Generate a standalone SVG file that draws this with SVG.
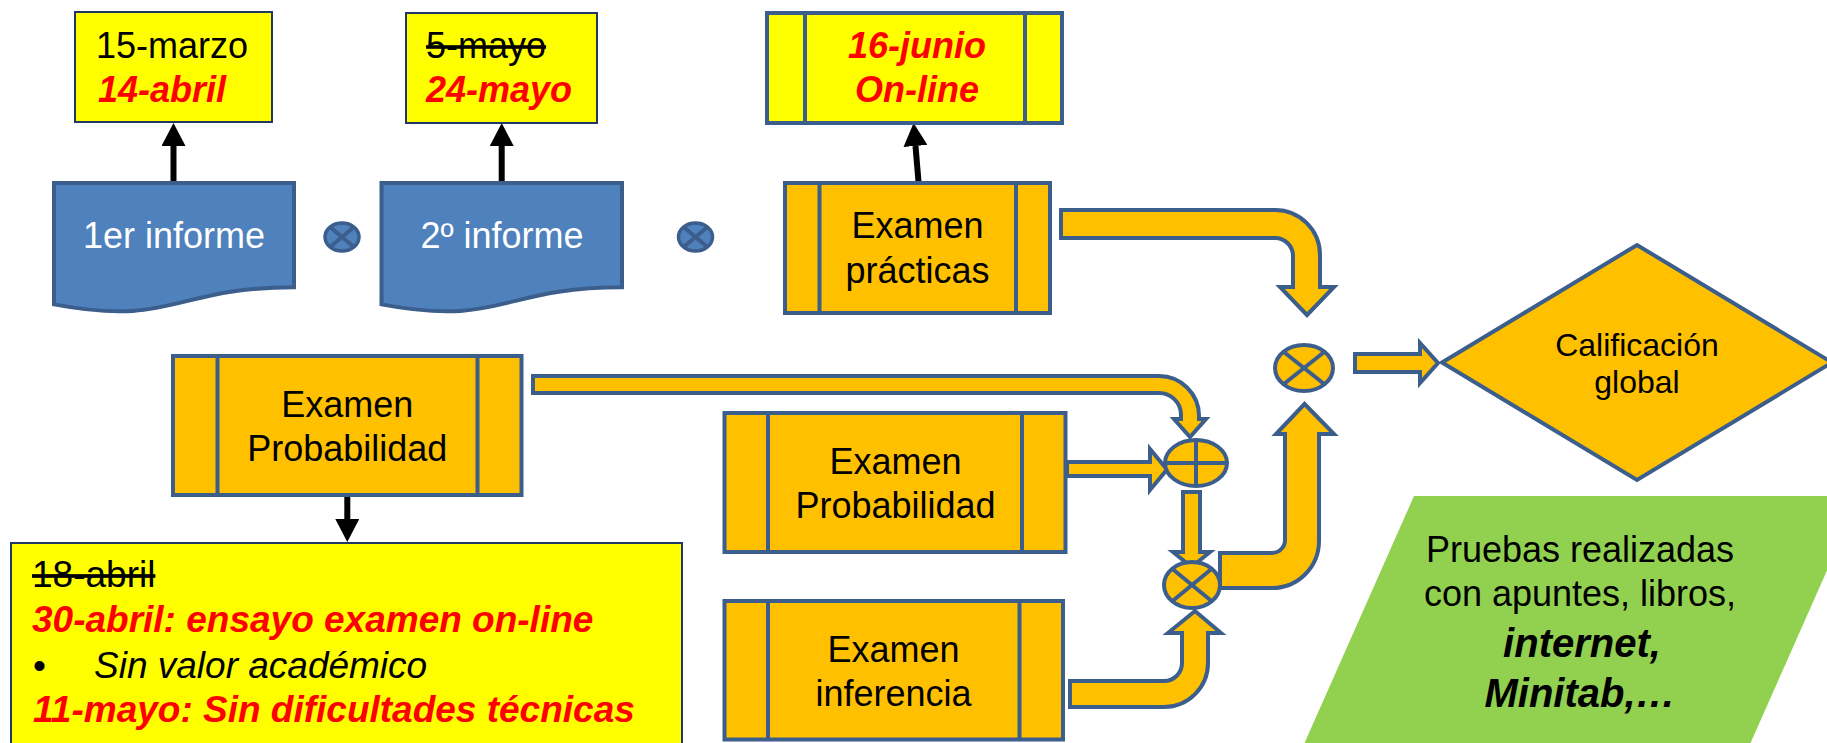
<svg xmlns="http://www.w3.org/2000/svg" width="1827" height="743" viewBox="0 0 1827 743">
<style>
text{font-family:"Liberation Sans",Arial,sans-serif}
.note{fill:#FFFF00;stroke:#1F3864;stroke-width:2}
.proc{fill:#FFC000;stroke:#3B5E8C;stroke-width:4}
.procy{fill:#FFFF00;stroke:#3B5E8C;stroke-width:4}
.bar{stroke:#3B5E8C;stroke-width:4;fill:none}
.doc{fill:#4F81BD;stroke:#3B5E8C;stroke-width:4}
.flow{fill:#FFC000;stroke:#3B5E8C;stroke-width:4;stroke-linejoin:miter}
.jn{fill:#FFC000;stroke:#3B5E8C;stroke-width:4}
.jb{fill:#4F81BD;stroke:#3B5E8C;stroke-width:3.5}
.jl{stroke:#3B5E8C;stroke-width:4;fill:none}
.blk{stroke:#000;stroke-width:6;fill:none}
.t36{font-size:36px;fill:#000}
.w36{font-size:36px;fill:#fff}
.red{font-weight:bold;font-style:italic;fill:#FF0000}
.strike{text-decoration:line-through}
</style>
<defs>
<marker id="ah" markerUnits="userSpaceOnUse" markerWidth="24" markerHeight="24" refX="0" refY="12" orient="auto">
<path d="M0,0 L23,12 L0,24 Z" fill="#000"/>
</marker>
</defs>

<g id="connectors">
<line class="blk" x1="173.5" y1="183" x2="173.5" y2="146" marker-end="url(#ah)"/>
<line class="blk" x1="501.7" y1="183" x2="501.7" y2="146" marker-end="url(#ah)"/>
<line class="blk" x1="918.6" y1="183" x2="915.5" y2="146" marker-end="url(#ah)"/>
<line class="blk" x1="347.3" y1="495" x2="347.3" y2="519" marker-end="url(#ah)"/>
<path class="flow" d="M1061,210 H1275 A45,45 0 0 1 1320,255 V287 H1334 L1307,315 L1280,287 H1293 V256 A18,18 0 0 0 1275,238 H1061 Z"/>
<path class="flow" d="M533,376 H1159 A40,40 0 0 1 1199,416 V419 H1206 L1190,437 L1174,419 H1181 V415 A22,22 0 0 0 1159,393 H533 Z"/>
<path class="flow" d="M1067,462 H1150 V449 L1167,469.5 L1150,490 V476 H1067 Z"/>
<path class="flow" d="M1183,492 H1200 V552 H1210 L1191.5,567 L1173,552 H1183 Z"/>
<path class="flow" d="M1070,681 H1164 A18,18 0 0 0 1182,663 V633 H1168 L1195,611 L1221,633 H1208 V663 A44,44 0 0 1 1164,707 H1070 Z"/>
<path class="flow" d="M1220,553 H1272 A13,13 0 0 0 1285,540 V434 H1276 L1304.5,404 L1334,434 H1319 V541 A47,47 0 0 1 1272,588 H1220 Z"/>
<path class="flow" d="M1355,354 H1420 V343 L1438,363 L1420,383 V372 H1355 Z"/>
</g>

<g id="fecha1">
<rect class="note" x="75" y="12" width="197" height="110"/>
<text class="t36" x="96" y="58">15-marzo</text>
<text class="t36 red" x="98" y="102">14-abril</text>
</g>
<g id="fecha2">
<rect class="note" x="406" y="13" width="191" height="110"/>
<text class="t36 strike" x="426" y="58">5-mayo</text>
<text class="t36 red" x="426" y="102">24-mayo</text>
</g>
<g id="fecha3">
<rect class="procy" x="767" y="13" width="295" height="110"/>
<line class="bar" x1="805" y1="13" x2="805" y2="123"/>
<line class="bar" x1="1025" y1="13" x2="1025" y2="123"/>
<text class="t36 red" x="917" y="58" text-anchor="middle">16-junio</text>
<text class="t36 red" x="917" y="102" text-anchor="middle">On-line</text>
</g>

<g id="informe1">
<path class="doc" d="M54,183 H294 V287.2 C174,287.2 174,327 54,304.4 Z"/>
<text class="w36" x="174" y="248" text-anchor="middle">1er informe</text>
</g>
<g id="junction-a">
<ellipse class="jb" cx="342" cy="237" rx="17" ry="14"/>
<path class="jl" d="M330,227 L354,247 M354,227 L330,247"/>
</g>
<g id="informe2">
<path class="doc" d="M381.5,183 H622 V287.2 C501.7,287.2 501.7,327 381.5,304.4 Z"/>
<text class="w36" x="502" y="248" text-anchor="middle">2º informe</text>
</g>
<g id="junction-b">
<ellipse class="jb" cx="695.5" cy="237" rx="17" ry="14"/>
<path class="jl" d="M683.5,227 L707.5,247 M707.5,227 L683.5,247"/>
</g>

<g id="practicas">
<rect class="proc" x="785" y="183" width="265" height="130"/>
<line class="bar" x1="819.5" y1="183" x2="819.5" y2="313"/>
<line class="bar" x1="1016" y1="183" x2="1016" y2="313"/>
<text class="t36" x="917.5" y="238" text-anchor="middle">Examen</text>
<text class="t36" x="917.5" y="283" text-anchor="middle">prácticas</text>
</g>

<g id="probabilidad1">
<rect class="proc" x="173" y="356" width="348.5" height="139"/>
<line class="bar" x1="217.5" y1="356" x2="217.5" y2="495"/>
<line class="bar" x1="477.5" y1="356" x2="477.5" y2="495"/>
<text class="t36" x="347.3" y="417" text-anchor="middle">Examen</text>
<text class="t36" x="347.3" y="461" text-anchor="middle">Probabilidad</text>
</g>

<g id="fechas-probabilidad">
<rect class="note" x="11" y="543" width="671" height="205"/>
<text class="t36 strike" x="32" y="587" style="font-size:37px">18-abril</text>
<text class="t36 red" x="32" y="632" style="font-size:37px">30-abril: ensayo examen on-line</text>
<text class="t36" x="33" y="678" style="font-size:37px">•</text>
<text class="t36" x="94" y="678" style="font-size:37px;font-style:italic">Sin valor académico</text>
<text class="t36 red" x="33" y="722" style="font-size:37px">11-mayo: Sin dificultades técnicas</text>
</g>

<g id="probabilidad2">
<rect class="proc" x="724.5" y="413" width="341" height="139"/>
<line class="bar" x1="768" y1="413" x2="768" y2="552"/>
<line class="bar" x1="1022" y1="413" x2="1022" y2="552"/>
<text class="t36" x="895.5" y="474" text-anchor="middle">Examen</text>
<text class="t36" x="895.5" y="518" text-anchor="middle">Probabilidad</text>
</g>

<g id="inferencia">
<rect class="proc" x="724.5" y="601" width="338.5" height="138.5"/>
<line class="bar" x1="768" y1="601" x2="768" y2="739.5"/>
<line class="bar" x1="1019.5" y1="601" x2="1019.5" y2="739.5"/>
<text class="t36" x="893.5" y="662" text-anchor="middle">Examen</text>
<text class="t36" x="893.5" y="706" text-anchor="middle">inferencia</text>
</g>

<g id="suma">
<ellipse class="jn" cx="1196" cy="463" rx="31" ry="23"/>
<path class="jl" d="M1165,463 H1227 M1196,440 V486"/>
</g>
<g id="producto-inferior">
<ellipse class="jn" cx="1192" cy="585" rx="28" ry="23"/>
<path class="jl" d="M1172.2,568.7 L1211.8,601.3 M1211.8,568.7 L1172.2,601.3"/>
</g>
<g id="producto-final">
<ellipse class="jn" cx="1304" cy="368" rx="29" ry="23"/>
<path class="jl" d="M1283.5,351.7 L1324.5,384.3 M1324.5,351.7 L1283.5,384.3"/>
</g>

<g id="calificacion">
<polygon class="jn" points="1442,362.5 1637,245 1832,362.5 1637,480"/>
<text x="1637" y="356" text-anchor="middle" style="font-size:32px;fill:#000">Calificación</text>
<text x="1637" y="393" text-anchor="middle" style="font-size:32px;fill:#000">global</text>
</g>

<g id="pruebas">
<polygon points="1414,496 1860,496 1743,760 1297,760" fill="#92D050"/>
<text class="t36" x="1580" y="562" text-anchor="middle">Pruebas realizadas</text>
<text class="t36" x="1580" y="606" text-anchor="middle">con apuntes, libros,</text>
<text x="1582" y="657" text-anchor="middle" style="font-size:40px;font-weight:bold;font-style:italic;fill:#000">internet,</text>
<text x="1580" y="707" text-anchor="middle" style="font-size:40px;font-weight:bold;font-style:italic;fill:#000">Minitab,…</text>
</g>
</svg>
